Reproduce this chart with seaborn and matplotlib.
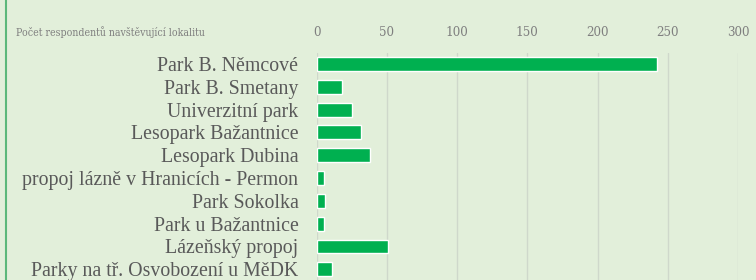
import matplotlib
matplotlib.use('Agg')
import matplotlib.pyplot as plt
import seaborn as sns
import pandas as pd

# data
lokality = ['Park B. Němcové', 'Park B. Smetany', 'Univerzitní park',
            'Lesopark Bažantnice', 'Lesopark Dubina',
            'propoj lázně v Hranicích - Permon', 'Park Sokolka',
            'Park u Bažantnice', 'Lázeňský propoj',
            'Parky na tř. Osvobození u MěDK']
pocty = [242, 18, 25, 32, 38, 5, 6, 5, 51, 11]
x_ticks = [0, 50, 100, 150, 200, 250, 300]

BG = '#e2efda'
GREEN = '#00b050'

sns.set_theme(style='white')
plt.rcParams['font.family'] = ['Liberation Serif', 'DejaVu Serif']

df = pd.DataFrame({'lokalita': lokality, 'pocet': pocty})

fig = plt.figure(figsize=(7.56, 2.8), dpi=100, facecolor=BG)
ax = fig.add_axes([316.5 / 756, 0, 421.5 / 756, 227 / 280])
ax.set_facecolor(BG)

sns.barplot(data=df, x='pocet', y='lokalita', orient='h', color=GREEN,
            width=0.61, saturation=1, ax=ax, zorder=3)

ax.set_xlim(0, 300)
ax.set_ylim(9.47, -0.48)
ax.set_xticks(x_ticks)
ax.xaxis.tick_top()
ax.tick_params(axis='x', length=0, pad=10, labelcolor='#7f7f7f')
ax.tick_params(axis='y', length=0, pad=13, labelsize=14.3, labelcolor='#595959')
for t in ax.get_xticklabels():
    t.set_family('DejaVu Serif')
    t.set_stretch('condensed')
    t.set_fontsize(9.5)
ax.grid(axis='x', color='#cfd8cb', linewidth=1, zorder=0)
ax.set_xlabel('')
ax.set_ylabel('')
for s in ax.spines.values():
    s.set_visible(False)

fig.text(16 / 756, 1 - 32 / 280, 'Počet respondentů navštěvující lokalitu',
         ha='left', va='center', fontsize=7.6, color='#7f7f7f',
         family='DejaVu Serif', stretch='condensed')

# green border line on the left
fig.add_artist(plt.Line2D([6 / 756, 6 / 756], [0, 1], color='#5cb87a',
                          linewidth=1.5, transform=fig.transFigure))

fig.savefig('out.png', dpi=100, facecolor=BG)
